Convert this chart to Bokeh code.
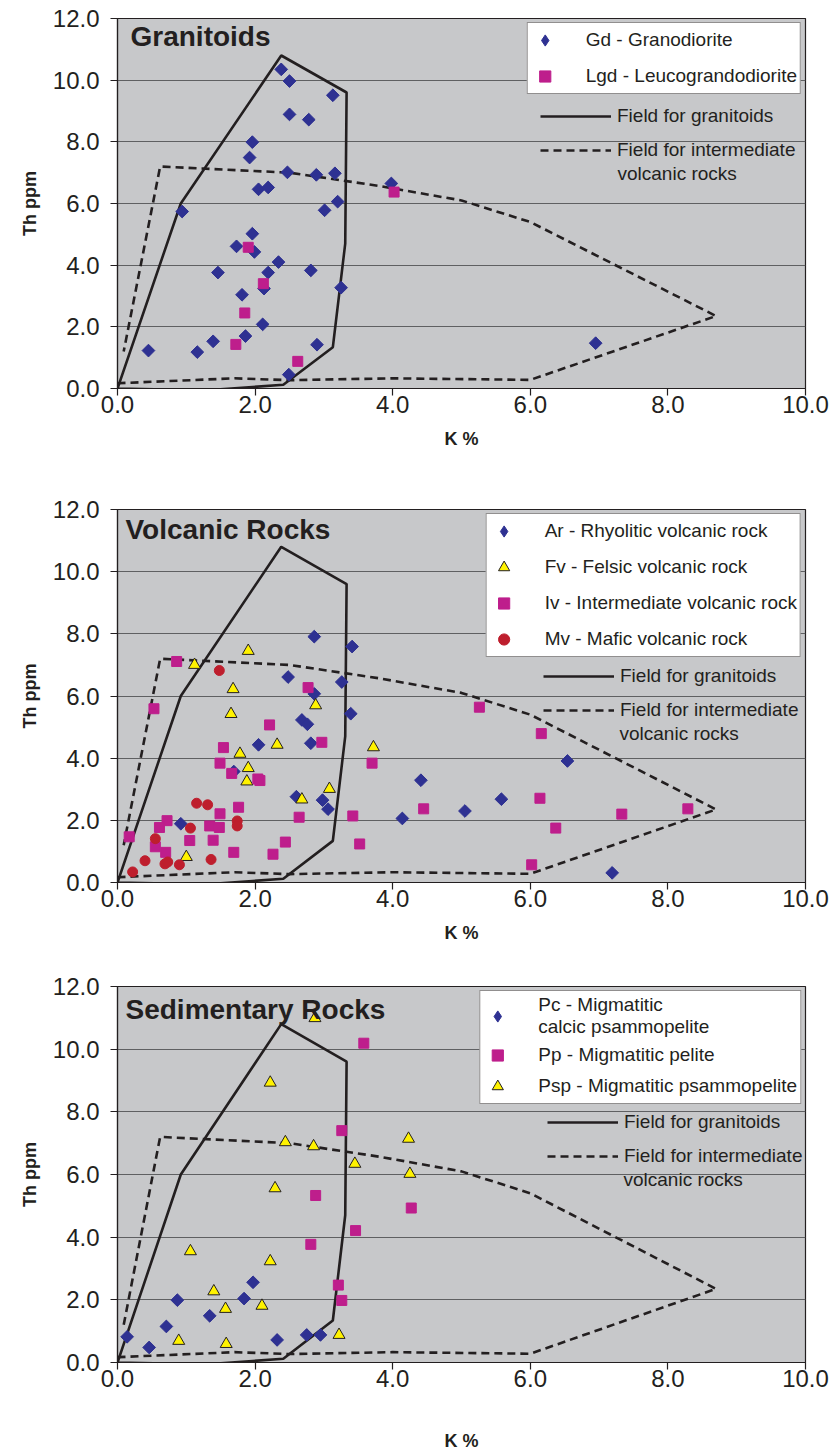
from bokeh.plotting import figure
from bokeh.models import (Range1d, FixedTicker, NumeralTickFormatter, Legend,
                          LegendItem, Label)
from bokeh.layouts import column
from bokeh.embed import file_html
from bokeh.resources import INLINE
import numpy as np

# ---------------- data ----------------
x_ticks = [0, 2, 4, 6, 8, 10]
y_ticks = [0, 2, 4, 6, 8, 10, 12]

# field outlines (K %, Th ppm)
gran_field_k = [0.0, 0.92, 2.38, 3.33, 3.31, 3.13, 2.41, 1.28, 0.0]
gran_field_th = [0.0, 6.0, 10.8, 9.6, 4.7, 1.34, 0.12, -0.06, 0.0]
int_field_k = [0.0, 1.7, 2.5, 4.0, 6.0, 8.7, 6.0, 5.0, 3.8, 2.5, 0.62, 0.09]
int_field_th = [0.17, 0.33, 0.27, 0.33, 0.28, 2.35, 5.4, 6.1, 6.57, 7.0, 7.2, 1.2]

# Granitoids
gd_k = [2.38, 2.50, 3.13, 2.50, 2.78, 1.96, 1.92, 2.47, 2.89, 3.16, 2.05, 2.19,
        3.20, 3.01, 0.94, 1.96, 1.73, 1.99, 2.34, 1.46, 2.19, 2.81, 3.25, 2.13,
        1.81, 2.11, 1.86, 0.45, 1.16, 1.39, 2.90, 2.49, 3.98, 6.95]
gd_th = [10.35, 9.97, 9.51, 8.89, 8.72, 7.99, 7.49, 7.01, 6.93, 6.98, 6.46, 6.52,
         6.06, 5.78, 5.74, 5.02, 4.61, 4.43, 4.10, 3.76, 3.76, 3.83, 3.27, 3.24,
         3.04, 2.08, 1.70, 1.23, 1.18, 1.53, 1.42, 0.45, 6.65, 1.47]
lgd_k = [1.90, 2.12, 1.85, 1.72, 2.62, 4.02]
lgd_th = [4.58, 3.40, 2.45, 1.43, 0.88, 6.37]

# Volcanic rocks
ar_k = [2.86, 3.41, 2.48, 3.26, 2.86, 3.39, 2.68, 2.76, 2.05, 2.81, 1.69, 2.60,
        2.98, 3.06, 0.92, 4.41, 6.54, 5.58, 4.14, 5.05, 7.19]
ar_th = [7.91, 7.59, 6.61, 6.45, 6.07, 5.43, 5.23, 5.09, 4.43, 4.48, 3.57, 2.76,
         2.65, 2.36, 1.89, 3.29, 3.91, 2.68, 2.06, 2.30, 0.31]
fv_k = [1.90, 1.12, 1.68, 1.65, 2.88, 2.32, 1.78, 1.90, 1.88, 3.08, 2.68, 3.72, 1.00]
fv_th = [7.45, 7.00, 6.22, 5.42, 5.70, 4.43, 4.14, 3.68, 3.25, 3.01, 2.67, 4.35, 0.82]
iv_k = [0.86, 0.53, 2.77, 2.21, 1.54, 2.97, 1.49, 1.66, 2.04, 2.07, 1.76, 1.49,
        2.64, 0.72, 0.61, 1.34, 1.48, 1.05, 1.39, 0.55, 0.70, 1.69, 2.44, 2.26,
        0.17, 3.70, 3.42, 3.52, 5.26, 6.16, 4.45, 6.14, 6.37, 7.33, 8.29, 6.02]
iv_th = [7.11, 5.59, 6.27, 5.07, 4.34, 4.51, 3.84, 3.51, 3.33, 3.28, 2.42, 2.21,
         2.10, 1.99, 1.77, 1.82, 1.77, 1.35, 1.36, 1.15, 0.97, 0.97, 1.30, 0.91,
         1.47, 3.84, 2.14, 1.24, 5.64, 4.79, 2.37, 2.71, 1.75, 2.20, 2.37, 0.57]
mv_k = [1.48, 1.15, 1.31, 1.74, 1.74, 1.06, 0.55, 0.40, 0.22, 0.69, 0.73, 0.90, 1.36]
mv_th = [6.82, 2.55, 2.50, 1.98, 1.82, 1.75, 1.41, 0.70, 0.34, 0.60, 0.66, 0.57, 0.74]

# Sedimentary rocks
pc_k = [0.14, 0.46, 0.71, 0.87, 1.34, 1.84, 1.97, 2.32, 2.75, 2.95]
pc_th = [0.82, 0.48, 1.15, 1.99, 1.49, 2.04, 2.56, 0.72, 0.88, 0.88]
pp_k = [3.58, 3.26, 2.88, 3.46, 2.81, 3.21, 3.26, 4.27]
pp_th = [10.19, 7.40, 5.33, 4.21, 3.77, 2.47, 1.98, 4.93]
psp_k = [2.87, 2.22, 2.44, 2.85, 3.45, 2.29, 1.06, 2.22, 1.40, 1.57, 2.10, 0.89,
         1.58, 3.22, 4.23, 4.25]
psp_th = [10.99, 8.93, 7.03, 6.90, 6.34, 5.56, 3.55, 3.23, 2.27, 1.71, 1.81, 0.69,
          0.59, 0.88, 7.14, 6.02]

# ---------------- styling ----------------
FONT = "Liberation Sans"
INK = "#231f20"
BG = "#c7c8ca"
GRID = "#5f6062"
BLUE = "#2e3192"
MAGENTA = "#be1e8c"
YELLOW = "#fff200"
RED = "#be1e2d"

MARKERS = {
    "diamond": dict(marker="square", angle=np.pi / 4, size=9, fill_color=BLUE, line_color=BLUE),
    "square": dict(marker="square", size=10, fill_color=MAGENTA, line_color=MAGENTA),
    "triangle": dict(marker="triangle", size=12, fill_color=YELLOW, line_color=INK, line_width=1),
    "circle": dict(marker="circle", size=10, fill_color=RED, line_color=RED),
}


def make_fig(frame_h, b_top, b_bottom, xlabel_standoff):
    p = figure(frame_width=688, frame_height=frame_h,
               x_range=Range1d(0, 10), y_range=Range1d(0, 12),
               output_backend="svg", toolbar_location=None,
               min_border_left=117, min_border_right=26,
               min_border_top=b_top, min_border_bottom=b_bottom,
               border_fill_color="white")
    p.background_fill_color = BG
    p.outline_line_color = INK
    p.outline_line_width = 1.2
    p.xgrid.visible = False
    p.ygrid.grid_line_color = GRID
    p.ygrid.grid_line_width = 1.2
    p.xaxis.ticker = FixedTicker(ticks=x_ticks)
    p.yaxis.ticker = FixedTicker(ticks=y_ticks)
    for ax in (p.xaxis[0], p.yaxis[0]):
        ax.formatter = NumeralTickFormatter(format="0.0")
        ax.major_label_text_font = FONT
        ax.major_label_text_font_size = "24px"
        ax.major_label_text_color = INK
        ax.axis_line_color = INK
        ax.axis_line_width = 1.2
        ax.major_tick_line_color = INK
        ax.major_tick_line_width = 1.2
        ax.major_tick_out = 7
        ax.major_tick_in = 0
        ax.minor_tick_out = 0
        ax.minor_tick_in = 0
        ax.axis_label_text_font = FONT
        ax.axis_label_text_font_style = "bold"
        ax.axis_label_text_font_size = "18px"
        ax.axis_label_text_color = INK
    p.xaxis.axis_label = "K %"
    p.yaxis.axis_label = "Th ppm"
    p.xaxis.major_label_standoff = 0
    p.yaxis.major_label_standoff = 11
    p.xaxis.axis_label_standoff = xlabel_standoff
    p.yaxis.axis_label_standoff = 10
    return p


def add_fields(p, field_loc, vr_xy):
    r_g = p.line(gran_field_k, gran_field_th, line_color=INK, line_width=2.6)
    r_i = p.line(int_field_k, int_field_th, line_color=INK, line_width=2.6,
                 line_dash="8 5")
    leg = Legend(items=[LegendItem(label="Field for granitoids", renderers=[r_g]),
                        LegendItem(label="Field for intermediate", renderers=[r_i])],
                 location=field_loc, glyph_width=71, glyph_height=20,
                 label_standoff=6, spacing=12, padding=0, margin=0,
                 background_fill_alpha=0, border_line_alpha=0,
                 label_text_font=FONT, label_text_font_size="19px",
                 label_text_color=INK)
    p.add_layout(leg)
    p.add_layout(Label(x=vr_xy[0], y=vr_xy[1], x_units="screen", y_units="screen",
                       text="volcanic rocks", text_font=FONT, text_font_size="19px",
                       text_color=INK, text_baseline="middle"))


def add_title(p, text, x, y):
    p.add_layout(Label(x=x, y=y, x_units="screen", y_units="screen", text=text,
                       text_font=FONT, text_font_size="28px", text_font_style="bold",
                       text_color=INK, text_baseline="top"))


def add_points(p, series, spacing, padding=3):
    items = []
    for label, xs, ys, kind in series:
        rends = None
        if kind == "diamond":
            # diamond-shaped swatch for the legend, hidden under the plotted marks
            rends = [p.scatter(xs, ys, marker="diamond", size=11, fill_color=BLUE,
                               line_color=BLUE)]
        r = p.scatter(xs, ys, **MARKERS[kind])
        if rends is None:
            rends = [r]
        items.append(LegendItem(label=label, renderers=rends))
    leg = Legend(items=items, location="top_right", margin=4, padding=padding,
                 glyph_width=28, glyph_height=28, label_standoff=27, spacing=spacing,
                 border_line_color=INK, border_line_width=1,
                 background_fill_color="white", background_fill_alpha=1,
                 label_text_font=FONT, label_text_font_size="19px",
                 label_text_color=INK)
    p.add_layout(leg)


# Panel 1
p1 = make_fig(370, 18, 106, 13)
add_fields(p1, (423, 227), (500, 215))
add_points(p1, [("Gd - Granodiorite", gd_k, gd_th, "diamond"),
                ("Lgd - Leucograndodiorite", lgd_k, lgd_th, "square")], 8, 3)
add_title(p1, "Granitoids", 13, 368)

# Panel 2
p2 = make_fig(373, 15, 89, 13)
add_fields(p2, (426, 161), (502, 149))
add_points(p2, [("Ar - Rhyolitic volcanic rock", ar_k, ar_th, "diamond"),
                ("Fv - Felsic volcanic rock", fv_k, fv_th, "triangle"),
                ("Iv - Intermediate volcanic rock", iv_k, iv_th, "square"),
                ("Mv - Mafic volcanic rock", mv_k, mv_th, "circle")], 8, 3)
add_title(p2, "Volcanic  Rocks", 8, 369)

# Panel 3
p3 = make_fig(376, 15, 80, 41)
add_fields(p3, (430, 195), (506, 183))
add_points(p3, [("Pc - Migmatitic\ncalcic psammopelite", pc_k, pc_th, "diamond"),
                ("Pp - Migmatitic pelite", pp_k, pp_th, "square"),
                ("Psp - Migmatitic psammopelite", psp_k, psp_th, "triangle")], 3, 3)
add_title(p3, "Sedimentary Rocks", 8, 369)

layout = column(p1, p2, p3, spacing=0)
open("out.html", "w").write(file_html(layout, INLINE))
